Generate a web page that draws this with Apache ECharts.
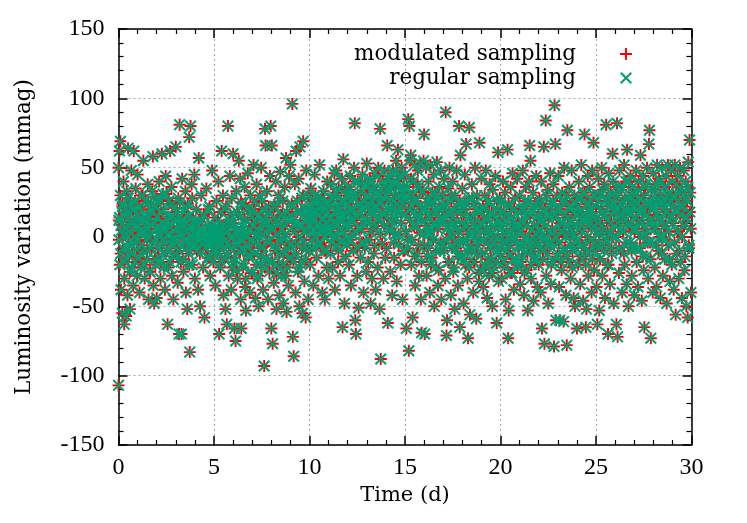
<!DOCTYPE html>
<html>
<head>
<meta charset="utf-8">
<script src="https://cdn.jsdelivr.net/npm/echarts@6/dist/echarts.min.js"></script>
<style>
  html, body { margin: 0; padding: 0; background: #fff; }
  #chart { width: 747px; height: 523px; }
</style>
</head>
<body>
<div id="chart"></div>
<script>
// [time (d), luminosity variation (mmag)], grouped by 5-day blocks
const days0to5 = [
  [0.0,-107],[0.0,50],[0.05,62],[0.1,69],[0.2,-55],[0.3,-63],[0.4,-57],[0.5,64],[0.6,-52],[0.8,62],
  [0.02,12],[0.07,-20],[0.1,30],[0.13,-38],[0.16,5],[0.2,22],[0.23,-8],[0.26,40],[0.3,-30],[0.33,15],
  [0.37,-15],[0.4,2],[0.43,33],[0.47,-42],[0.5,18],[0.53,-5],[0.57,8],[0.6,-25],[0.63,25],[0.67,48],
  [0.7,-12],[0.73,10],[0.77,-35],[0.8,20],[0.83,0],[0.87,-18],[0.9,35],[0.93,6],[0.97,-28],
  [1.0,45],[1.03,-3],[1.07,22],[1.1,-40],[1.13,12],[1.17,-22],[1.2,30],[1.23,4],[1.27,-10],[1.3,55],
  [1.33,16],[1.37,-30],[1.4,8],[1.43,26],[1.47,-16],[1.5,-2],[1.53,38],[1.57,-45],[1.6,14],[1.63,-25],
  [1.67,3],[1.7,20],[1.73,-8],[1.77,33],[1.8,58],[1.83,-35],[1.87,-48],[1.9,10],[1.93,-20],[1.97,28],
  [2.0,-44],[2.03,6],[2.07,24],[2.1,-14],[2.13,40],[2.17,0],[2.2,-30],[2.23,17],[2.27,60],[2.3,-6],
  [2.33,31],[2.37,-22],[2.4,9],[2.43,-38],[2.47,44],[2.5,13],[2.53,-10],[2.57,-63],[2.6,2],[2.63,26],
  [2.67,-18],[2.7,62],[2.73,-2],[2.77,36],[2.8,-28],[2.83,15],[2.87,-45],[2.9,5],[2.93,21],[2.97,-12],
  [3.0,65],[3.03,-8],[3.07,12],[3.1,-33],[3.13,28],[3.17,-70],[3.2,81],[3.23,3],[3.27,-18],[3.3,-70],
  [3.33,42],[3.37,8],[3.4,-25],[3.43,18],[3.47,-4],[3.5,33],[3.53,-40],[3.57,10],[3.6,-52],[3.63,24],
  [3.67,-12],[3.7,72],[3.73,-83],[3.77,80],[3.8,0],[3.83,38],[3.87,-20],[3.9,14],[3.93,-6],[3.97,45],
  [4.0,-30],[4.03,7],[4.07,20],[4.1,-10],[4.13,2],[4.17,-38],[4.2,57],[4.23,-2],[4.27,-50],[4.3,11],
  [4.33,30],[4.37,-5],[4.4,4],[4.43,-22],[4.47,16],[4.5,-58],[4.53,0],[4.57,-8],[4.6,35],[4.63,3],
  [4.67,-15],[4.7,8],[4.73,-3],[4.77,22],[4.8,-28],[4.83,1],[4.87,-6],[4.9,48],[4.93,5],[4.97,-18]
];
const days5to10 = [
  [5.0,-2],[5.03,14],[5.07,-35],[5.1,3],[5.13,26],[5.17,-12],[5.2,-1],[5.23,40],[5.27,-70],[5.3,6],
  [5.33,-22],[5.37,18],[5.4,62],[5.43,-5],[5.47,30],[5.5,-42],[5.53,9],[5.57,-15],[5.6,-52],[5.63,22],
  [5.67,-63],[5.7,4],[5.73,80],[5.77,-28],[5.8,12],[5.83,44],[5.87,-8],[5.9,-38],[5.93,28],[5.97,0],
  [6.0,60],[6.03,-18],[6.07,-66],[6.1,7],[6.13,-75],[6.17,33],[6.2,-4],[6.23,-30],[6.27,16],[6.3,55],
  [6.33,-10],[6.37,42],[6.4,-45],[6.43,-66],[6.47,2],[6.5,24],[6.53,-22],[6.57,10],[6.6,36],[6.63,-36],
  [6.67,-53],[6.7,-6],[6.73,20],[6.77,46],[6.8,-14],[6.83,5],[6.87,-40],[6.9,30],[6.93,-2],[6.97,14],
  [7.0,-26],[7.03,8],[7.07,52],[7.1,-12],[7.13,25],[7.17,-44],[7.2,0],[7.23,38],[7.27,-30],[7.3,15],
  [7.33,-50],[7.37,4],[7.4,30],[7.43,-20],[7.47,50],[7.5,-8],[7.53,20],[7.57,-38],[7.6,10],[7.63,-93],
  [7.67,78],[7.7,66],[7.73,-15],[7.77,33],[7.8,-3],[7.83,-45],[7.87,18],[7.9,-25],[7.93,44],[7.97,80],
  [8.0,-66],[8.03,66],[8.07,-77],[8.1,5],[8.13,-33],[8.17,22],[8.2,-10],[8.23,40],[8.27,-52],[8.3,12],
  [8.33,-20],[8.37,30],[8.4,-2],[8.43,-42],[8.47,47],[8.5,16],[8.53,-28],[8.57,6],[8.6,26],[8.63,-48],
  [8.67,-12],[8.7,36],[8.73,2],[8.77,57],[8.8,-54],[8.83,-22],[8.87,14],[8.9,-35],[8.93,44],[8.97,-6],
  [9.0,52],[9.03,-15],[9.07,24],[9.1,96],[9.13,-72],[9.17,-86],[9.2,8],[9.23,38],[9.27,-40],[9.3,62],
  [9.33,-5],[9.37,18],[9.4,-25],[9.43,42],[9.47,-50],[9.5,65],[9.53,10],[9.57,-18],[9.6,28],[9.63,-55],
  [9.67,69],[9.7,4],[9.73,-32],[9.77,20],[9.8,-58],[9.83,48],[9.87,-8],[9.9,12],[9.93,-45],[9.97,30]
];
const days10to15 = [
  [10.0,15],[10.03,-20],[10.07,35],[10.1,5],[10.13,-8],[10.17,22],[10.2,-35],[10.23,12],[10.27,45],[10.3,0],
  [10.33,18],[10.37,-15],[10.4,28],[10.43,8],[10.47,-28],[10.5,16],[10.53,52],[10.57,-5],[10.6,24],[10.63,3],
  [10.67,-40],[10.7,13],[10.73,33],[10.77,-10],[10.8,-45],[10.83,20],[10.87,6],[10.9,-22],[10.93,40],[10.97,10],
  [11.0,-30],[11.03,25],[11.07,4],[11.1,-12],[11.13,38],[11.17,14],[11.2,-22],[11.23,30],[11.27,0],[11.3,46],
  [11.33,-38],[11.37,10],[11.4,48],[11.43,-6],[11.47,22],[11.5,-18],[11.53,35],[11.57,6],[11.6,-28],[11.63,16],
  [11.67,-4],[11.7,42],[11.73,-65],[11.77,56],[11.8,26],[11.83,-48],[11.87,8],[11.9,-14],[11.93,30],[11.97,18],
  [12.0,-2],[12.03,36],[12.07,-20],[12.1,12],[12.13,44],[12.17,-35],[12.2,20],[12.23,2],[12.27,30],[12.3,-10],
  [12.33,50],[12.37,82],[12.4,-60],[12.43,-70],[12.47,15],[12.5,-28],[12.53,40],[12.57,-51],[12.6,6],[12.63,24],
  [12.67,-15],[12.7,32],[12.73,-4],[12.77,45],[12.8,10],[12.83,-40],[12.87,22],[12.9,-8],[12.93,38],[12.97,-25],
  [13.0,53],[13.03,12],[13.07,-18],[13.1,28],[13.13,-2],[13.17,40],[13.2,-48],[13.23,18],[13.27,-30],[13.3,34],
  [13.33,6],[13.37,-12],[13.4,46],[13.43,22],[13.47,-38],[13.5,8],[13.53,30],[13.57,-22],[13.6,50],[13.63,14],
  [13.67,-52],[13.7,78],[13.73,-88],[13.77,25],[13.8,-5],[13.83,40],[13.87,-30],[13.9,16],[13.93,48],[13.97,-15],
  [14.0,30],[14.03,-8],[14.07,66],[14.1,-62],[14.13,20],[14.17,42],[14.2,4],[14.23,-25],[14.27,35],[14.3,12],
  [14.33,-42],[14.37,48],[14.4,26],[14.43,-15],[14.47,38],[14.5,2],[14.53,55],[14.57,-32],[14.6,18],[14.63,63],
  [14.67,-5],[14.7,30],[14.73,44],[14.77,-20],[14.8,10],[14.83,50],[14.87,-45],[14.9,24],[14.93,36],[14.97,-10]
];
const days15to20 = [
  [15.0,45],[15.03,16],[15.07,-66],[15.1,30],[15.13,-2],[15.17,85],[15.2,-82],[15.23,80],[15.27,55],[15.3,59],
  [15.33,-20],[15.37,22],[15.4,-58],[15.43,40],[15.47,8],[15.5,52],[15.53,-35],[15.57,28],[15.6,14],[15.63,-12],
  [15.67,48],[15.7,36],[15.73,-28],[15.77,3],[15.8,53],[15.83,-45],[15.87,-69],[15.9,20],[15.93,33],[15.97,55],
  [16.0,74],[16.03,-70],[16.07,12],[16.1,50],[16.13,-28],[16.17,25],[16.2,-8],[16.23,40],[16.27,4],[16.3,-40],
  [16.33,52],[16.37,18],[16.4,-15],[16.43,32],[16.47,-2],[16.5,45],[16.53,-50],[16.57,10],[16.6,28],[16.63,-22],
  [16.67,54],[16.7,6],[16.73,-35],[16.77,20],[16.8,36],[16.83,-10],[16.87,48],[16.9,-45],[16.93,14],[16.97,30],
  [17.0,-5],[17.03,42],[17.07,22],[17.1,-30],[17.13,90],[17.17,-71],[17.2,-60],[17.23,8],[17.27,35],[17.3,-18],
  [17.33,50],[17.37,16],[17.4,-42],[17.43,26],[17.47,0],[17.5,40],[17.53,-25],[17.57,10],[17.6,-52],[17.63,30],
  [17.67,-8],[17.7,48],[17.73,18],[17.77,-35],[17.8,4],[17.83,80],[17.87,-65],[17.9,59],[17.93,24],[17.97,-15],
  [18.0,35],[18.03,-2],[18.07,-48],[18.1,20],[18.13,45],[18.17,-20],[18.2,67],[18.23,8],[18.27,-30],[18.3,-73],
  [18.33,28],[18.37,79],[18.4,-56],[18.43,14],[18.47,-10],[18.5,38],[18.53,2],[18.57,-40],[18.6,24],[18.63,-18],
  [18.67,50],[18.7,6],[18.73,-59],[18.77,30],[18.8,-6],[18.83,18],[18.87,-32],[18.9,68],[18.93,10],[18.97,-24],
  [19.0,42],[19.03,-12],[19.07,22],[19.1,-36],[19.13,4],[19.17,30],[19.2,-20],[19.23,48],[19.27,12],[19.3,-44],
  [19.33,-4],[19.37,26],[19.4,-28],[19.43,38],[19.47,6],[19.5,-15],[19.53,18],[19.57,-50],[19.6,34],[19.63,0],
  [19.67,-22],[19.7,14],[19.73,44],[19.77,-8],[19.8,-62],[19.83,20],[19.87,61],[19.9,-32],[19.93,8],[19.97,28]
];
const days20to25 = [
  [20.0,-8],[20.03,25],[20.07,-30],[20.1,10],[20.13,40],[20.17,-18],[20.2,2],[20.23,32],[20.27,-45],[20.3,16],
  [20.33,-4],[20.37,63],[20.4,-73],[20.43,-53],[20.47,22],[20.5,-12],[20.53,36],[20.57,6],[20.6,-26],[20.63,46],
  [20.67,12],[20.7,-38],[20.73,0],[20.77,28],[20.8,-16],[20.83,8],[20.87,42],[20.9,-22],[20.93,18],[20.97,-6],
  [21.0,30],[21.03,-34],[21.07,4],[21.1,20],[21.13,-14],[21.17,48],[21.2,10],[21.23,-42],[21.27,26],[21.3,-2],
  [21.33,36],[21.37,-24],[21.4,14],[21.43,-53],[21.47,-8],[21.5,40],[21.53,66],[21.57,55],[21.6,-30],[21.63,18],
  [21.67,-4],[21.7,32],[21.73,-46],[21.77,8],[21.8,24],[21.83,-16],[21.87,44],[21.9,2],[21.93,-36],[21.97,16],
  [22.0,-20],[22.03,28],[22.07,6],[22.1,-40],[22.13,40],[22.17,-66],[22.2,12],[22.23,-10],[22.27,65],[22.3,-77],
  [22.33,20],[22.37,84],[22.4,-28],[22.43,0],[22.47,34],[22.5,-48],[22.53,16],[22.57,-6],[22.6,46],[22.63,-34],
  [22.67,24],[22.7,2],[22.73,-18],[22.77,38],[22.8,-79],[22.83,95],[22.87,67],[22.9,-60],[22.93,14],[22.97,30],
  [23.0,-12],[23.03,44],[23.07,-36],[23.1,-60],[23.13,20],[23.17,4],[23.2,-24],[23.23,32],[23.27,10],[23.3,-61],
  [23.33,50],[23.37,-8],[23.4,26],[23.43,-42],[23.47,-78],[23.5,77],[23.53,14],[23.57,-18],[23.6,36],[23.63,2],
  [23.67,-30],[23.7,22],[23.73,48],[23.77,-10],[23.8,8],[23.83,-44],[23.87,30],[23.9,-50],[23.93,16],[23.97,-4],
  [24.0,-66],[24.03,28],[24.07,-20],[24.1,40],[24.13,6],[24.17,-34],[24.2,18],[24.23,52],[24.27,-6],[24.3,32],
  [24.33,-46],[24.37,12],[24.4,74],[24.43,-14],[24.47,-65],[24.5,-52],[24.53,24],[24.57,44],[24.6,-28],[24.63,8],
  [24.67,36],[24.7,-2],[24.73,20],[24.77,-40],[24.8,48],[24.83,14],[24.87,68],[24.9,-24],[24.93,30],[24.97,-10]
];
const days25to30 = [
  [25.0,22],[25.03,-36],[25.07,-63],[25.1,10],[25.13,42],[25.17,-53],[25.2,-16],[25.23,30],[25.27,4],[25.3,50],
  [25.33,-28],[25.37,18],[25.4,-6],[25.43,38],[25.47,-44],[25.5,26],[25.53,81],[25.57,12],[25.6,-20],[25.63,-70],
  [25.67,46],[25.7,2],[25.73,-34],[25.77,32],[25.8,16],[25.83,-12],[25.87,60],[25.9,40],[25.93,-48],[25.97,24],
  [26.0,8],[26.03,36],[26.07,-63],[26.1,82],[26.13,-72],[26.17,20],[26.2,-26],[26.23,48],[26.27,12],[26.3,-10],
  [26.33,34],[26.37,-40],[26.4,26],[26.43,4],[26.47,52],[26.5,-20],[26.53,18],[26.57,40],[26.6,-34],[26.63,63],
  [26.67,10],[26.7,-50],[26.73,28],[26.77,-4],[26.8,44],[26.83,16],[26.87,-28],[26.9,36],[26.93,-8],[26.97,22],
  [27.0,-42],[27.03,30],[27.07,6],[27.1,48],[27.13,-18],[27.17,24],[27.2,-36],[27.23,40],[27.27,12],[27.3,-8],
  [27.33,59],[27.37,28],[27.4,-46],[27.43,18],[27.47,44],[27.5,-24],[27.53,-65],[27.57,36],[27.6,2],[27.63,-14],
  [27.67,50],[27.7,22],[27.73,-30],[27.77,67],[27.8,77],[27.83,-4],[27.87,-73],[27.9,34],[27.93,12],[27.97,-40],
  [28.0,46],[28.03,20],[28.07,-22],[28.1,38],[28.13,6],[28.17,-36],[28.2,52],[28.23,26],[28.27,-10],[28.3,42],
  [28.33,14],[28.37,-44],[28.4,30],[28.43,0],[28.47,50],[28.5,-28],[28.53,20],[28.57,36],[28.6,-16],[28.63,8],
  [28.67,44],[28.7,-48],[28.73,24],[28.77,52],[28.8,-6],[28.83,32],[28.87,-32],[28.9,16],[28.93,48],[28.97,-20],
  [29.0,40],[29.03,10],[29.07,-38],[29.1,28],[29.13,52],[29.17,-56],[29.2,18],[29.23,-12],[29.27,44],[29.3,4],
  [29.33,-30],[29.37,36],[29.4,50],[29.43,-18],[29.47,22],[29.5,-44],[29.53,30],[29.57,8],[29.6,48],[29.63,-24],
  [29.67,14],[29.7,40],[29.73,-50],[29.77,26],[29.8,-58],[29.83,54],[29.87,-8],[29.9,70],[29.93,32],[29.97,-40]
];

// the dense core of the band: 20 samples per day, one row per day
const coreTimes = [0.02,0.06,0.11,0.16,0.21,0.26,0.31,0.36,0.41,0.46,0.51,0.56,0.61,0.66,0.71,0.76,0.81,0.86,0.91,0.96];
const coreByDay = [
  [-2,14,-12,9,24,1,-18,17,6,-7,28,-14,11,3,-22,19,-4,26,13,-9],
  [8,-15,21,2,-6,30,12,-20,4,16,-10,25,0,-25,9,18,-3,11,-16,22],
  [15,-8,3,27,-18,10,-2,20,6,-12,31,1,-22,14,7,-5,24,-14,12,-1],
  [-4,18,6,-10,25,2,12,-16,9,-2,21,-8,4,15,-20,7,1,28,-6,11],
  [2,-6,10,-1,4,-12,6,0,-4,15,1,-8,3,-2,20,-15,5,-3,8,-10],
  [-3,5,-10,1,12,-5,3,-18,7,0,-8,20,-2,4,-14,9,-6,16,-1,-22],
  [10,-15,4,-24,18,-6,2,-11,25,-2,7,-19,13,-30,0,-8,21,-13,5,-26],
  [-10,20,-4,12,-20,6,-28,16,0,-14,26,-7,9,-22,3,14,-17,22,-3,8],
  [6,-18,14,-6,22,-26,2,10,-12,28,-4,16,-20,0,8,-28,18,-8,12,-15],
  [15,-5,22,-18,4,10,-12,26,0,-22,8,18,-8,30,-2,12,-16,5,20,-10],
  [20,8,-2,26,14,4,30,-8,18,10,-4,22,6,28,12,0,16,-10,24,2],
  [6,22,14,-4,28,10,18,0,32,8,-10,20,12,26,-2,16,4,34,10,-6],
  [24,8,34,-2,18,28,12,40,4,22,-8,30,16,38,6,20,-4,26,14,36],
  [10,30,22,42,4,26,16,36,-6,20,32,12,44,24,2,34,18,28,8,38],
  [34,14,42,26,6,38,20,46,-4,30,12,40,24,2,36,18,44,28,-10,32],
  [28,4,36,-8,20,12,42,-2,30,18,-14,26,8,38,-6,22,14,-18,32,2],
  [-6,20,8,-14,28,2,14,-20,24,-2,10,32,-10,18,6,-24,22,-4,12,30],
  [12,-10,24,-2,6,-18,18,2,30,-8,14,-22,8,-4,22,-14,4,26,-12,10],
  [-4,16,-16,8,24,-10,2,-22,14,-6,28,0,-18,10,20,-12,6,-26,18,-2],
  [10,-12,20,-2,-22,6,14,-16,24,-8,2,-26,16,-4,8,-18,26,0,-12,12],
  [-14,8,-4,18,-22,2,12,-10,24,-6,-26,14,0,-16,20,-2,6,-20,10,-8],
  [4,-18,12,-6,20,-26,0,8,-12,26,-2,16,-20,6,-8,22,-14,2,14,-4],
  [12,-8,24,2,-16,18,-2,8,30,-12,14,-4,22,-20,6,26,-6,16,0,-14],
  [20,-4,10,-18,26,4,-10,16,0,30,-14,8,22,-6,12,-22,18,2,-8,24],
  [-2,22,10,-14,28,4,16,-8,32,-20,12,0,24,-10,18,6,-16,30,8,-4],
  [14,-6,26,2,-16,20,8,34,-10,16,-2,28,4,-20,22,10,-8,30,0,18],
  [20,0,30,10,-8,24,16,36,4,-12,28,12,-4,22,40,8,18,-10,32,6],
  [4,26,14,-8,34,18,0,22,10,-14,30,6,38,16,-4,24,12,-16,28,8],
  [22,6,34,-6,16,28,0,40,12,-12,24,8,36,-2,18,30,4,-16,26,14],
  [10,30,-4,20,38,4,26,-10,16,34,0,22,8,-14,28,14,36,-6,18,6]
];

const xTicks = [0, 5, 10, 15, 20, 25, 30];
const yTicks = [-150, -100, -50, 0, 50, 100, 150];
const seriesNames = ['modulated sampling', 'regular sampling'];

// both samplings land on the same points in the plot
const samples = [].concat(days0to5, days5to10, days10to15, days15to20, days20to25, days25to30);
coreByDay.forEach((vals, day) => {
  vals.forEach((v, i) => samples.push([day + coreTimes[i], v]));
});

const plusPath = 'path://M4.2,0H5.8V4.2H10V5.8H5.8V10H4.2V5.8H0V4.2H4.2Z';
const crossPath = 'path://M0,1.2L1.2,0L5,3.8L8.8,0L10,1.2L6.2,5L10,8.8L8.8,10L5,6.2L1.2,10L0,8.8L3.8,5Z';

const chart = echarts.init(document.getElementById('chart'), null, { renderer: 'canvas' });
const TEXT_FONT = 'DejaVu Serif';
const NUM_FONT = 'Liberation Serif';

function frameAxis(pos, isX, showLabel) {
  const ticks = isX ? xTicks : yTicks;
  return {
    type: 'value',
    position: pos,
    min: ticks[0],
    max: ticks[ticks.length - 1],
    interval: ticks[1] - ticks[0],
    axisLine: { show: true, onZero: false, lineStyle: { color: '#000', width: 1.5 } },
    axisTick: { show: true, inside: true, length: 9, lineStyle: { color: '#000', width: 1.5 } },
    minorTick: { show: true, splitNumber: 5, length: 5, lineStyle: { color: '#000', width: 1.2 } },
    axisLabel: {
      show: showLabel,
      color: '#000',
      fontFamily: NUM_FONT,
      fontSize: 24,
      margin: isX ? 11 : 14
    },
    splitLine: {
      show: showLabel,
      lineStyle: { color: '#a8a8a8', width: 1, type: [2, 3] }
    }
  };
}

const xBottom = Object.assign(frameAxis('bottom', true, true), {
  name: 'Time (d)',
  nameLocation: 'middle',
  nameGap: 39,
  nameTextStyle: { fontFamily: TEXT_FONT, fontSize: 21, color: '#000' }
});
const yLeft = Object.assign(frameAxis('left', false, true), {
  name: 'Luminosity variation (mmag)',
  nameLocation: 'middle',
  nameGap: 83,
  nameTextStyle: { fontFamily: TEXT_FONT, fontSize: 21.5, color: '#000' }
});

chart.setOption({
  animation: false,
  backgroundColor: '#fff',
  grid: { left: 118.5, right: 55.5, top: 29, bottom: 78 },
  legend: {
    orient: 'vertical',
    align: 'right',
    right: 110,
    top: 38,
    itemWidth: 12,
    itemHeight: 12,
    itemGap: 2,
    textStyle: { fontFamily: TEXT_FONT, fontSize: 21.5, color: '#000', padding: [0, 39, 0, 0] },
    data: seriesNames
  },
  xAxis: [xBottom, frameAxis('top', true, false)],
  yAxis: [yLeft, frameAxis('right', false, false)],
  series: [{
    name: seriesNames[0],
    type: 'scatter',
    symbol: plusPath,
    symbolSize: 12,
    itemStyle: { color: '#ff0000', opacity: 1 },
    data: samples
  }, {
    name: seriesNames[1],
    type: 'scatter',
    symbol: crossPath,
    symbolSize: 12,
    itemStyle: { color: '#009e73', opacity: 1 },
    data: samples
  }]
});
</script>
</body>
</html>
